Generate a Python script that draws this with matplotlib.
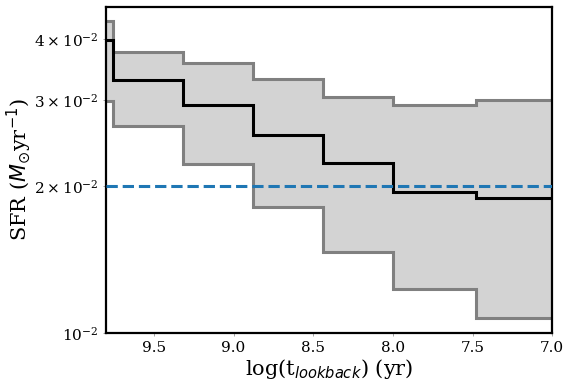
import numpy as np
import matplotlib
matplotlib.use("Agg")
import matplotlib.pyplot as plt

plt.rcParams['font.family'] = 'serif'

# bin edges in log(t_lookback), ascending
edges = [7.0, 7.48, 8.0, 8.44, 8.88, 9.32, 9.76, 9.80]

# SFR per bin (Msun/yr), same order as edges
sfr_median = [0.0189, 0.0195, 0.0223, 0.0255, 0.0294, 0.0330, 0.0398]
sfr_upper = [0.0300, 0.0294, 0.0305, 0.0332, 0.0357, 0.0377, 0.0436]
sfr_lower = [0.01075, 0.0123, 0.01466, 0.01815, 0.0222, 0.0266, 0.0299]

sfr_ref = 0.02

fig, ax = plt.subplots(figsize=(5.71, 3.89), dpi=100)

ax.stairs(sfr_upper, edges, baseline=sfr_lower, fill=True, color='lightgray', zorder=1)
ax.stairs(sfr_upper, edges, baseline=None, color='gray', linewidth=2.2, zorder=2)
ax.stairs(sfr_lower, edges, baseline=None, color='gray', linewidth=2.2, zorder=2)
ax.stairs(sfr_median, edges, baseline=None, color='black', linewidth=2.2, zorder=3)
ax.axhline(sfr_ref, color='tab:blue', linestyle='--', linewidth=2.2, zorder=4)

ax.set_yscale('log')
ax.set_xlim(9.80, 7.0)
ax.set_ylim(0.01, 0.0466)

ax.set_xlabel(r'log(t$_{lookback}$) (yr)', fontsize=15, labelpad=2)
ax.set_ylabel(r'SFR ($M_{\odot}$yr$^{-1}$)', fontsize=15, labelpad=1)

for s in ax.spines.values():
    s.set_linewidth(1.6)
ax.tick_params(which='both', length=2, width=0.5, color='gray', labelsize=11)

plt.subplots_adjust(left=0.186, right=0.967, top=0.982, bottom=0.144)
plt.savefig('out.png', dpi=100)
